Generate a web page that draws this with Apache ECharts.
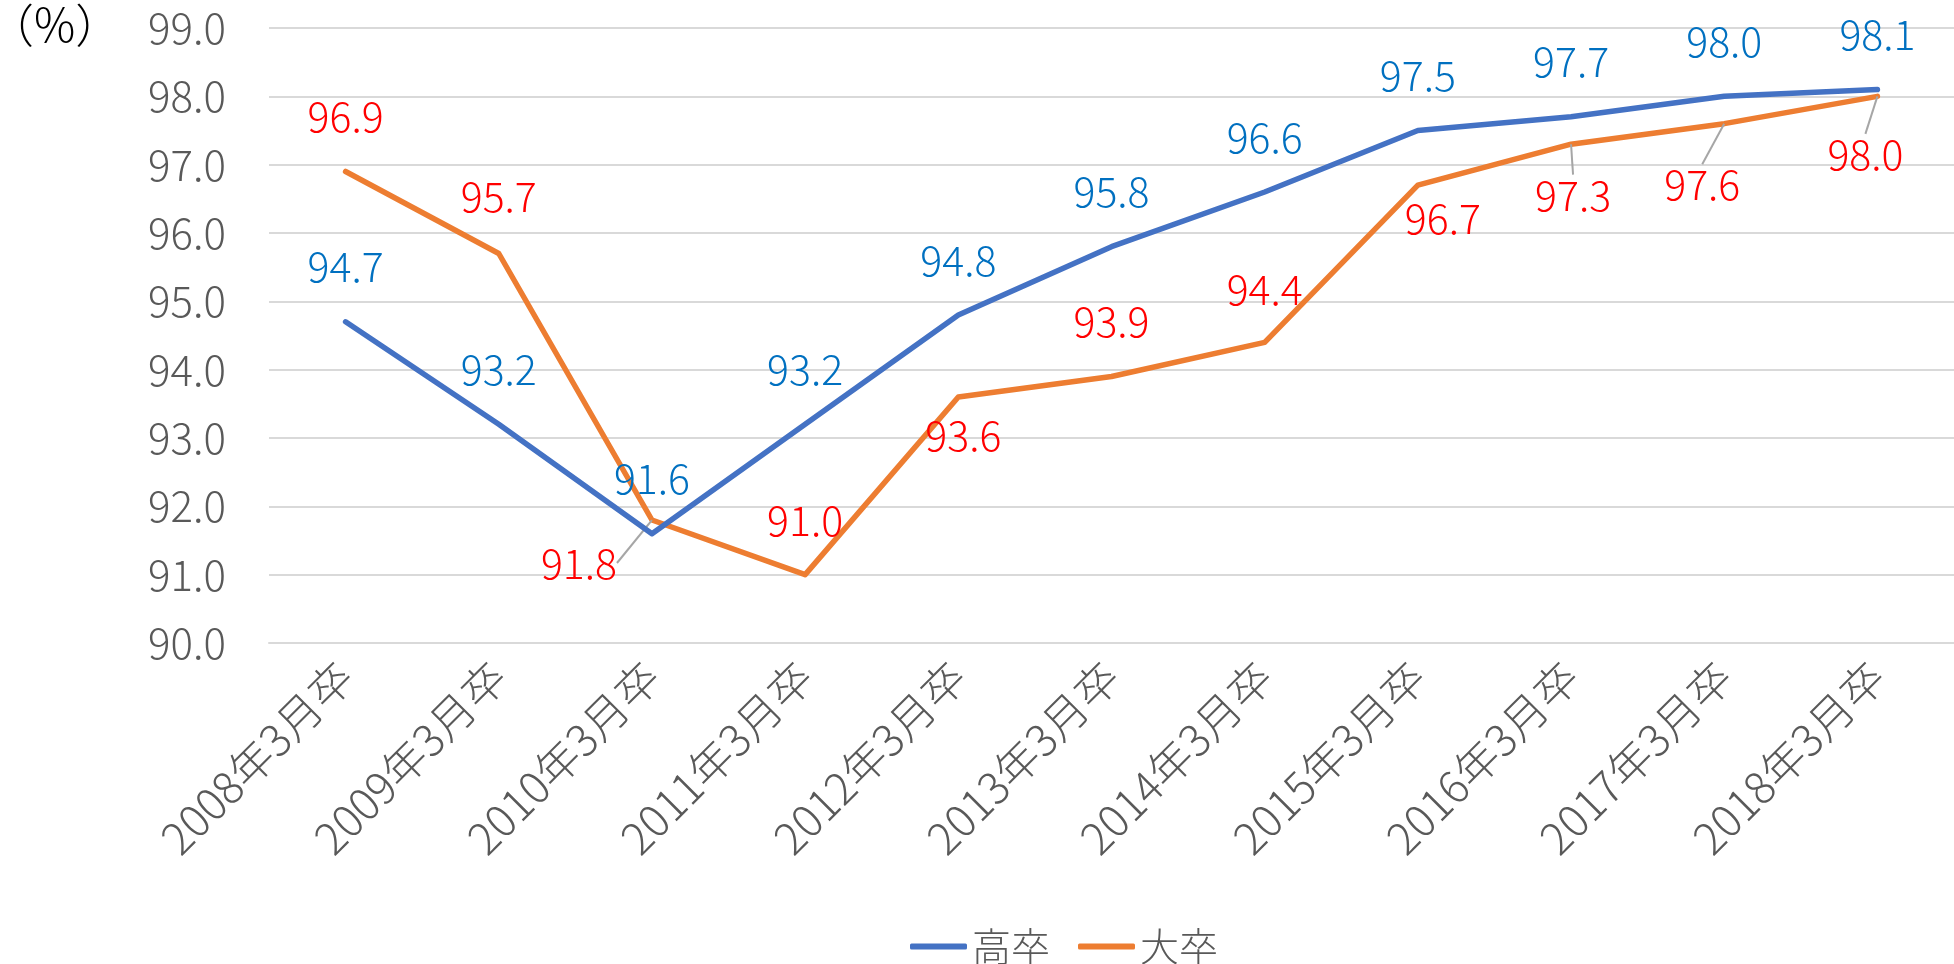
<!DOCTYPE html>
<html>
<head>
<meta charset="utf-8">
<script src="https://cdn.jsdelivr.net/npm/echarts@6/dist/echarts.min.js"></script>
<style>
html,body{margin:0;padding:0;background:#fff;}
#chart{width:1954px;height:964px;}
</style>
</head>
<body>
<div id="chart"></div>
<script>
const categories = ['2008年3月卒','2009年3月卒','2010年3月卒','2011年3月卒','2012年3月卒','2013年3月卒','2014年3月卒','2015年3月卒','2016年3月卒','2017年3月卒','2018年3月卒'];
const koso = [94.7, 93.2, 91.6, 93.2, 94.8, 95.8, 96.6, 97.5, 97.7, 98.0, 98.1];
const daisotsu = [96.9, 95.7, 91.8, 91.0, 93.6, 93.9, 94.4, 96.7, 97.3, 97.6, 98.0];
const seriesNames = ['高卒', '大卒'];
const yMin = 90, yMax = 99, yStep = 1;
const unitLabel = '（%）';

// label offsets (label centre relative to point), pixels
const kosoOffsets = koso.map(() => [0, -55]);
const daiOffsets = [[0,-55],[0,-57],[-73,43],[0,-54],[5,38],[0,-55],[0,-53],[25,33],[2,51],[-22,61],[-12,58]];
const daiLeader = [2, 8, 9, 10];

const FONT = '"Noto Sans CJK JP", "Noto Sans", sans-serif';
const W = 300;
const chart = echarts.init(document.getElementById('chart'));

function mkData(vals, leaderIdx) {
  return vals.map((v, i) => ({
    value: v,
    labelLine: { show: leaderIdx.indexOf(i) >= 0, lineStyle: { color: '#A6A6A6', width: 2 }, smooth: false }
  }));
}

chart.setOption({
  animation: false,
  backgroundColor: '#ffffff',
  grid: { left: 269, top: 28, width: 1691, height: 615, containLabel: false },
  graphic: [{
    type: 'text', left: -12, top: 2,
    style: { text: unitLabel, font: W + ' 46px ' + FONT, fill: '#000000' }
  }],
  legend: {
    left: 905, top: 922,
    itemWidth: 57, itemHeight: 6, itemGap: 28,
    icon: 'roundRect',
    textStyle: { fontFamily: FONT, fontWeight: W, fontSize: 39, color: '#595959', padding: [0, 0, 0, 0] },
    data: seriesNames
  },
  xAxis: {
    type: 'category', data: categories, boundaryGap: true,
    axisLine: { show: true, lineStyle: { color: '#D9D9D9', width: 2 } },
    axisTick: { show: false },
    axisLabel: { rotate: 45, margin: 26, fontFamily: FONT, fontWeight: W, fontSize: 44, color: '#595959', interval: 0 }
  },
  yAxis: {
    type: 'value', min: yMin, max: yMax, interval: yStep,
    axisLine: { show: false }, axisTick: { show: false },
    splitLine: { lineStyle: { color: '#D9D9D9', width: 2 } },
    axisLabel: { margin: 43, fontFamily: FONT, fontWeight: W, fontSize: 42, color: '#595959', formatter: v => v.toFixed(1) }
  },
  series: [{
    name: seriesNames[0], type: 'line', data: mkData(koso, []),
    symbol: 'circle', symbolSize: 0.1, showSymbol: true, z: 3,
    lineStyle: { color: '#4472C4', width: 5.5, cap: 'round', join: 'round' },
    itemStyle: { color: '#4472C4' },
    label: { show: true, position: 'inside', fontFamily: FONT, fontWeight: W, fontSize: 41, color: '#0070C0', formatter: p => p.value.toFixed(1) },
    labelLayout: p => ({ dx: kosoOffsets[p.dataIndex][0], dy: kosoOffsets[p.dataIndex][1], hideOverlap: false })
  }, {
    name: seriesNames[1], type: 'line', data: mkData(daisotsu, daiLeader),
    symbol: 'circle', symbolSize: 0.1, showSymbol: true, z: 2,
    lineStyle: { color: '#ED7D31', width: 5.5, cap: 'round', join: 'round' },
    itemStyle: { color: '#ED7D31' },
    label: { show: true, position: 'inside', fontFamily: FONT, fontWeight: W, fontSize: 41, color: '#FF0000', formatter: p => p.value.toFixed(1) },
    labelLine: { show: false, lineStyle: { color: '#A6A6A6', width: 2 } },
    labelLayout: p => ({ dx: daiOffsets[p.dataIndex][0], dy: daiOffsets[p.dataIndex][1], hideOverlap: false })
  }]
});
</script>
</body>
</html>
